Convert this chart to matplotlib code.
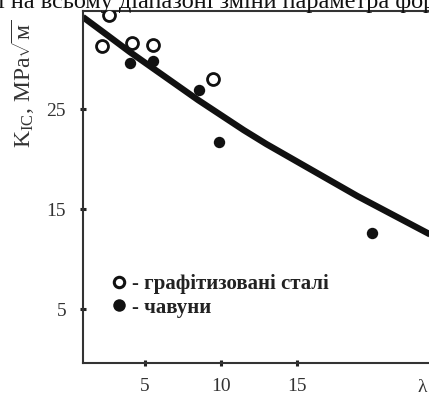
import matplotlib
matplotlib.use("Agg")
import matplotlib.pyplot as plt
from matplotlib.lines import Line2D

# Data
steel_x = [2.65, 2.18, 4.16, 5.55, 9.5]
steel_y = [34.4, 31.3, 31.6, 31.4, 28.0]
iron_x = [4.01, 5.55, 8.56, 9.9, 19.95]
iron_y = [29.6, 29.8, 26.9, 21.7, 12.6]
curve_x = [0.9, 2.5, 4, 5.5, 7, 8.5, 10, 11.5, 13, 14.5, 16, 17.5, 19, 20.5, 22, 23.5, 24]
curve_y = [34.2, 32.4, 30.7, 29.1, 27.5, 25.9, 24.4, 22.9, 21.5, 20.2, 18.9, 17.6,
           16.3, 15.1, 13.9, 12.7, 12.3]
xticks = [5, 10, 15]
yticks = [5, 15, 25]
legend_labels = ["- графітизовані сталі", "- чавуни"]

plt.rcParams['font.family'] = ['Liberation Serif', 'DejaVu Serif']
plt.rcParams['mathtext.fontset'] = 'custom'
plt.rcParams['mathtext.rm'] = 'Liberation Serif'
plt.rcParams['mathtext.it'] = 'Liberation Serif:italic'

W, H = 429, 395
fig = plt.figure(figsize=(W / 100, H / 100), dpi=100)
left, bottom, top = 82.7, 362.7, 11
ax = fig.add_axes([left / W, 1 - bottom / H, 1 - left / W + 0.01, (bottom - top) / H])

ax.set_xlim(0.89, 24.0)
ax.set_ylim(-0.35, 34.8)

ax.plot(curve_x, curve_y, color='#111111', lw=4.6, solid_capstyle='butt',
        solid_joinstyle='round', zorder=2)
ax.plot(steel_x, steel_y, 'o', ms=8.6, mfc='white', mec='#111111', mew=2.0, zorder=3,
        label=legend_labels[0])
ax.plot(iron_x, iron_y, 'o', ms=8.2, mfc='#111111', mec='#111111', mew=0, zorder=3,
        label=legend_labels[1])

for s in ['left', 'bottom', 'top']:
    ax.spines[s].set_color('#333333')
    ax.spines[s].set_linewidth(1.5)
ax.spines['right'].set_visible(False)

ax.set_xticks(xticks)
ax.set_yticks(yticks)
ax.tick_params(direction='inout', length=4, width=2.2, color='#222222',
               labelsize=14, labelcolor='#333333')
ax.tick_params(axis='x', pad=9)
ax.tick_params(axis='y', pad=10)

ax.text(23.3, -2.0, 'λ', transform=ax.transData, ha='center', va='top',
        fontsize=14, color='#333333')

fig.text(23 / W, 1 - 84 / H, r'K$_{\mathrm{IC}}$, MPa$\sqrt{\mathrm{м}}$', rotation=90,
         ha='center', va='center', fontsize=17, color='#333333')

fig.text(-2 / W, 1 - 8 / H, 'і на всьому діапазоні зміни параметра форми',
         ha='left', va='baseline', fontsize=17.5, color='#111111')

handles = [Line2D([], [], ls='none', marker='o', ms=7.5, mfc='white', mec='#111111', mew=2.2),
           Line2D([], [], ls='none', marker='o', ms=9, mfc='#111111', mec='#111111', mew=0)]
leg = ax.legend(handles, legend_labels, loc='center left',
                bbox_to_anchor=(92 / W, 1 - 296 / H), bbox_transform=fig.transFigure,
                frameon=False, handlelength=0.8, handletextpad=0.2, labelspacing=0.15,
                prop={'weight': 'bold', 'size': 15, 'family': 'Liberation Serif'})
for t in leg.get_texts():
    t.set_color('#222222')

fig.savefig('out.png', dpi=100)
